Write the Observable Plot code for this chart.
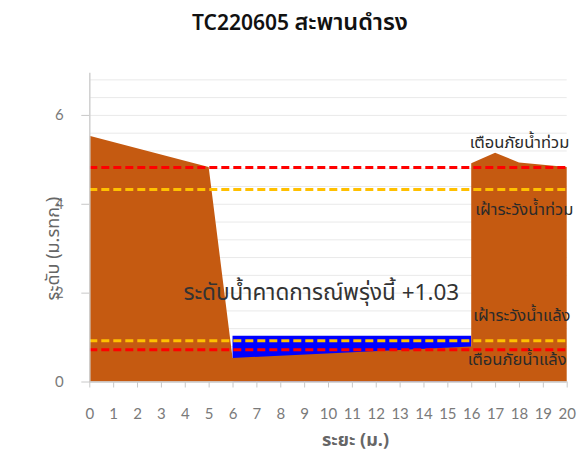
<!DOCTYPE html>
<html><head><meta charset="utf-8">
<script src="https://cdn.jsdelivr.net/npm/d3@7"></script>
<script src="https://cdn.jsdelivr.net/npm/@observablehq/plot@0.6"></script>
<style>
body{margin:0;background:#fff;}
#wrap{position:relative;width:587px;height:453px;overflow:hidden;}
#title{height:45px;box-sizing:border-box;padding-top:11px;padding-left:13px;text-align:center;font-family:"Noto Sans","Noto Sans Thai",sans-serif;font-size:21px;line-height:20px;font-weight:600;color:#111;}
#title .th{font-size:23.5px;}
</style></head><body>
<div id="wrap"><div id="title"></div><div id="chart"></div></div>
<script>
// ---- data ----
const groundX = [0, 5, 6, 16, 16, 17, 18, 20];
const groundY = [5.53, 4.83, 0.53, 0.79, 4.91, 5.15, 4.93, 4.83];
const waterX = [6, 16];
const waterLevel = 1.03;
const thresholdNames = ["เตือนภัยน้ำท่วม", "เฝ้าระวังน้ำท่วม", "เฝ้าระวังน้ำแล้ง", "เตือนภัยน้ำแล้ง"];
const thresholdLevels = [4.83, 4.33, 0.93, 0.725];
const thresholdColors = ["#ff0000", "#ffc000", "#ffc000", "#ff0000"];
const thresholdLabelX = [18.0, 18.2, 18.1, 17.9];
const thresholdLabelDy = [-25, 20, -25, 10];
const xTicks = [0,1,2,3,4,5,6,7,8,9,10,11,12,13,14,15,16,17,18,19,20];
const yTicks = [0, 2, 4, 6];
const gridLevels = [0.4,0.8,1.2,1.6,2.0,2.4,2.8,3.2,3.6,4.0,4.4,4.8,5.2,5.6,6.0,6.4,6.8];
const xDomain = [0, 20];
const yDomain = [0, 6.95];
const forecastText = "ระดับน้ำคาดการณ์พรุ่งนี้ +1.03";
const titleCode = "TC220605";
const titleName = "สะพานดำรง";
const xLabel = "ระยะ (ม.)";
const yLabel = "ระดับ (ม.รทก.)";

const titleEl = document.getElementById("title");
titleEl.append(titleCode + " ");
const thSpan = document.createElement("span");
thSpan.className = "th";
thSpan.textContent = titleName;
titleEl.append(thSpan);

const thaiFont = "'Noto Sans Thai', Tahoma, 'Noto Sans', sans-serif";
const ground = groundX.map((x, i) => ({x, y1: 0, y2: groundY[i]}));
const water = waterX.map(x => ({x, y1: 0, y2: waterLevel}));
const thresholds = thresholdLevels.map((y, i) => ({
  y, x1: xDomain[0], x2: xDomain[1], color: thresholdColors[i],
  name: thresholdNames[i], lx: thresholdLabelX[i], dy: thresholdLabelDy[i]
}));
const grid = gridLevels.map(y => ({y, x1: xDomain[0], x2: xDomain[1]}));

const thresholdTexts = thresholds.map(t =>
  Plot.text([t], {x: "lx", y: "y", text: "name", dy: t.dy, textAnchor: "middle", lineAnchor: "middle", fontSize: 16.5, fill: "#2a2a2a", fontFamily: thaiFont})
);

const chart = Plot.plot({
  width: 587, height: 408,
  marginTop: 27.7, marginBottom: 71.5, marginLeft: 89.3, marginRight: 20.3,
  x: {domain: xDomain},
  y: {domain: yDomain},
  color: {type: "identity"},
  style: {fontFamily: "Lato, 'Noto Sans', sans-serif", background: "#fff"},
  marks: [
    Plot.ruleY(grid, {y: "y", x1: "x1", x2: "x2", stroke: "#e9e9e9", strokeWidth: 1}),
    Plot.areaY(water, {x: "x", y1: "y1", y2: "y2", fill: "#0000ff"}),
    Plot.areaY(ground, {x: "x", y1: "y1", y2: "y2", fill: "#c55a11"}),
    Plot.ruleY(thresholds, {y: "y", x1: "x1", x2: "x2", stroke: "color", strokeWidth: 3, strokeDasharray: "8,4"}),
    ...thresholdTexts,
    Plot.text([forecastText], {x: () => 9.7, y: () => 2.0, text: d => d, textAnchor: "middle", lineAnchor: "middle", fontSize: 22.5, fill: "#333", fontFamily: thaiFont}),
    Plot.ruleX([xDomain[0]], {stroke: "#d0d0d0", strokeWidth: 1.5}),
    Plot.ruleY([yDomain[0]], {stroke: "#c8c8c8", strokeWidth: 1.5}),
    Plot.axisX({ticks: xTicks, tickSize: 6, tickPadding: 20, fontSize: 15, stroke: "#c8c8c8", fill: "#7a7a7a", label: null, tickFormat: d => String(d)}),
    Plot.axisY({ticks: yTicks, tickSize: 8, tickPadding: 18, fontSize: 15, stroke: "#c8c8c8", fill: "#7a7a7a", label: null, tickFormat: d => String(d)}),
    Plot.text([yLabel], {text: d => d, frameAnchor: "left", textAnchor: "middle", lineAnchor: "middle", rotate: -90, dx: -37, dy: 21, fontSize: 18, fill: "#666", fontFamily: thaiFont}),
    Plot.text([xLabel], {text: d => d, frameAnchor: "bottom", textAnchor: "middle", lineAnchor: "middle", dx: 27, dy: 58.5, fontSize: 18, fontWeight: "bold", fill: "#666", fontFamily: thaiFont})
  ]
});
document.getElementById("chart").appendChild(chart);
</script>
</body></html>
